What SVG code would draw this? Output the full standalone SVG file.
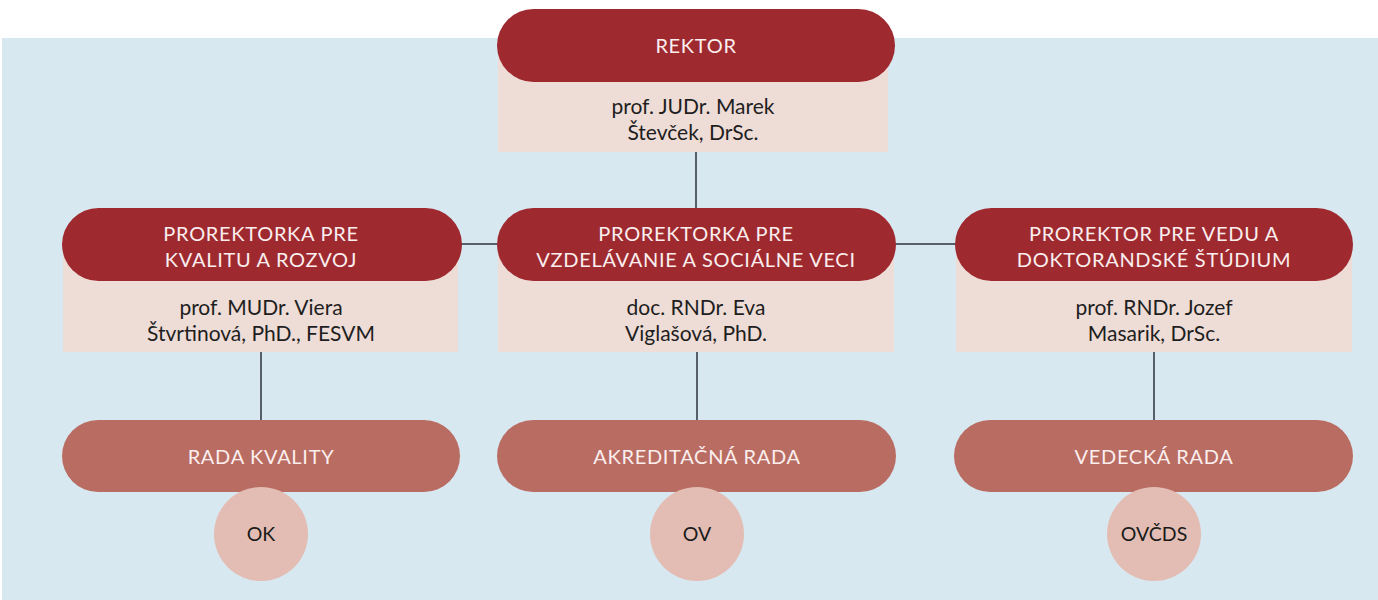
<svg xmlns="http://www.w3.org/2000/svg" width="1378" height="600" viewBox="0 0 1378 600">
<style>
.bg{fill:#d8e8f1}
.head{fill:#9e2a30}
.box{fill:#eedcd6}
.sub{fill:#b96c61}
.circ{fill:#e3bdb3}
.ht{font-family:Lato,"Open Sans",sans-serif;font-size:20px;letter-spacing:0.7px;fill:#fbeeee;text-anchor:middle}
.nt{font-family:Lato,"Open Sans",sans-serif;font-size:21px;fill:#1e1e1e;text-anchor:middle}
.ct{font-family:Lato,"Open Sans",sans-serif;font-size:19.5px;fill:#1a1a1a;text-anchor:middle}
.ln{stroke:#56606a;stroke-width:2;fill:none}
</style>
<rect width="1378" height="600" fill="#ffffff"/>
<rect class="bg" x="2" y="38" width="1376" height="562"/>
<g id="connectors">
<line class="ln" x1="696" y1="152" x2="696" y2="209"/>
<line class="ln" x1="460" y1="244" x2="500" y2="244"/>
<line class="ln" x1="893" y1="244" x2="957" y2="244"/>
<line class="ln" x1="261" y1="352" x2="261" y2="421"/>
<line class="ln" x1="697" y1="352" x2="697" y2="421"/>
<line class="ln" x1="1154" y1="352" x2="1154" y2="421"/>
</g>
<g id="rektor">
<rect class="box" x="498" y="40" width="390" height="112"/>
<rect class="head" x="497" y="9" width="398" height="73" rx="36.5"/>
<text class="ht" x="696" y="53">REKTOR</text>
<text class="nt" x="693" y="114">prof. JUDr. Marek</text>
<text class="nt" x="693" y="140">Števček, DrSc.</text>
</g>
<g id="prorektorka-kvalita">
<rect class="box" x="63" y="240" width="395" height="112"/>
<rect class="head" x="62" y="208" width="400" height="73" rx="36.5"/>
<text class="ht" x="261" y="241">PROREKTORKA PRE</text>
<text class="ht" x="261" y="267">KVALITU A ROZVOJ</text>
<text class="nt" x="261" y="315">prof. MUDr. Viera</text>
<text class="nt" x="261" y="341">Štvrtinová, PhD., FESVM</text>
</g>
<g id="prorektorka-vzdelavanie">
<rect class="box" x="498" y="240" width="396" height="112"/>
<rect class="head" x="497" y="208" width="399" height="73" rx="36.5"/>
<text class="ht" x="696" y="241">PROREKTORKA PRE</text>
<text class="ht" x="696" y="267">VZDELÁVANIE A SOCIÁLNE VECI</text>
<text class="nt" x="696" y="315">doc. RNDr. Eva</text>
<text class="nt" x="696" y="341">Viglašová, PhD.</text>
</g>
<g id="prorektor-veda">
<rect class="box" x="956" y="240" width="396" height="112"/>
<rect class="head" x="955" y="208" width="398" height="73" rx="36.5"/>
<text class="ht" x="1154" y="241">PROREKTOR PRE VEDU A</text>
<text class="ht" x="1154" y="267">DOKTORANDSKÉ ŠTÚDIUM</text>
<text class="nt" x="1154" y="315">prof. RNDr. Jozef</text>
<text class="nt" x="1154" y="341">Masarik, DrSc.</text>
</g>
<g id="rada-kvality">
<rect class="sub" x="62" y="420" width="398" height="72" rx="36"/>
<text class="ht" x="261" y="464">RADA KVALITY</text>
</g>
<g id="ok">
<circle class="circ" cx="261" cy="534" r="47"/>
<text class="ct" x="261" y="541">OK</text>
</g>
<g id="akreditacna-rada">
<rect class="sub" x="497" y="420" width="399" height="72" rx="36"/>
<text class="ht" x="697" y="464">AKREDITAČNÁ RADA</text>
</g>
<g id="ov">
<circle class="circ" cx="697" cy="534" r="47"/>
<text class="ct" x="697" y="541">OV</text>
</g>
<g id="vedecka-rada">
<rect class="sub" x="954" y="420" width="399" height="72" rx="36"/>
<text class="ht" x="1154" y="464">VEDECKÁ RADA</text>
</g>
<g id="ovcds">
<circle class="circ" cx="1154" cy="534" r="47"/>
<text class="ct" x="1154" y="541">OVČDS</text>
</g>
</svg>
